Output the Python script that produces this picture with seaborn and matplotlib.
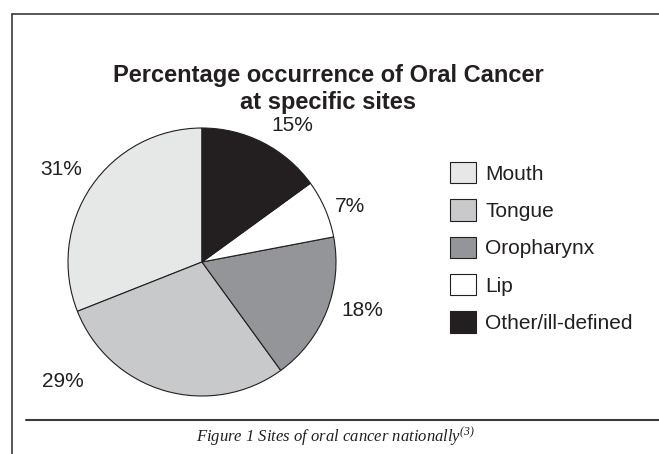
import numpy as np
import matplotlib
matplotlib.use("Agg")
import matplotlib.pyplot as plt
from matplotlib.lines import Line2D
import seaborn as sns

# data (legend order)
sites = ["Mouth", "Tongue", "Oropharynx", "Lip", "Other/ill-defined"]
percent = [31, 29, 18, 7, 15]
colours = ["#e6e7e7", "#c8c9cb", "#939598", "#ffffff", "#231f20"]

# label placement tweaks (deg shift from wedge middle, radius in pie units)
lab_shift = [1, -33, 4.6, -2.7, -6.5]
lab_dist = [1.26, 1.37, 1.25, 1.18, 1.22]

sns.set_theme(style="white")
plt.rcParams["font.family"] = ["Liberation Sans", "DejaVu Sans"]
plt.rcParams["mathtext.fontset"] = "custom"
plt.rcParams["mathtext.rm"] = "Liberation Serif:italic"
plt.rcParams["mathtext.it"] = "Liberation Serif:italic"

W, H = 659, 454
fig = plt.figure(figsize=(W / 100, H / 100), dpi=100)
ax = fig.add_axes([0, 0, 1, 1])

wedges, _ = ax.pie(percent, colors=colours, startangle=90, counterclock=True,
                   wedgeprops=dict(edgecolor="#231f20", linewidth=0.8))

# pie centre at (202, 262) px, radius 134 px
cx, cy, r = 202, 262, 134
ax.set_xlim(-cx / r, (W - cx) / r)
ax.set_ylim(-(H - cy) / r, cy / r)
ax.set_aspect("auto")
ax.axis("off")

for w, p, s, d in zip(wedges, percent, lab_shift, lab_dist):
    ang = np.deg2rad((w.theta1 + w.theta2) / 2 + s)
    ax.text(d * np.cos(ang), d * np.sin(ang), f"{p}%", ha="center", va="center",
            fontsize=15, color="#231f20")

fig.text(0.498, 1 - 89 / H, "Percentage occurrence of Oral Cancer\nat specific sites",
         ha="center", va="center", fontsize=17, fontweight="bold", color="#231f20",
         linespacing=1.2)

leg = fig.legend(wedges, sites, loc="upper left", bbox_to_anchor=(450 / W, 1 - 162 / H),
                 frameon=False, fontsize=15, handlelength=1.25, handleheight=1.2,
                 handletextpad=0.45, labelspacing=0.75, borderpad=0, borderaxespad=0)
for t in leg.get_texts():
    t.set_color("#231f20")

# frame and caption
lc = "#3a3a3a"
fig.add_artist(Line2D([12 / W, 12 / W], [0, 1 - 14 / H], color=lc, lw=1.2))
fig.add_artist(Line2D([12 / W, 1], [1 - 14 / H, 1 - 14 / H], color=lc, lw=1.2))
fig.add_artist(Line2D([26 / W, 1], [1 - 420 / H, 1 - 420 / H], color=lc, lw=1.5))
fig.text(335 / W, 1 - 437 / H, r"Figure 1 Sites of oral cancer nationally$^{(3)}$",
         ha="center", va="center", fontsize=12, fontstyle="italic",
         family=["Liberation Serif"], color="#231f20")

fig.savefig("out.png", dpi=100)
